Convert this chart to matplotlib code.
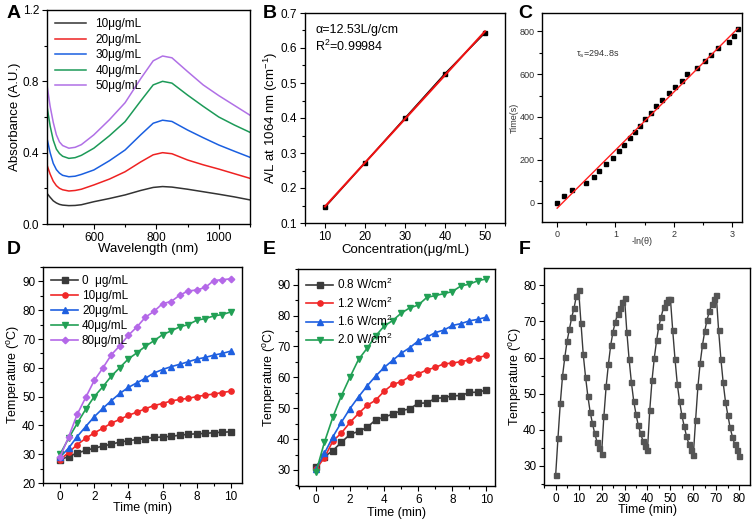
import numpy as np
import matplotlib
matplotlib.use("Agg")
import matplotlib.pyplot as plt
from matplotlib.ticker import MultipleLocator

plt.rcParams['font.family'] = ['Liberation Sans', 'DejaVu Sans']
plt.rcParams['mathtext.fontset'] = 'custom'
plt.rcParams['mathtext.rm'] = 'Liberation Sans'
plt.rcParams['mathtext.it'] = 'Liberation Sans:italic'
plt.rcParams['mathtext.default'] = 'regular'

# ---- A: absorbance spectra ----
wavelength = [450, 460, 470, 480, 490, 500, 520, 540, 560, 600, 650, 700, 750,
              790, 820, 850, 900, 950, 1000, 1050, 1100]
abs_10 = [0.172, 0.150, 0.130, 0.118, 0.110, 0.106, 0.103, 0.104, 0.108, 0.125, 0.143,
          0.163, 0.188, 0.205, 0.210, 0.207, 0.195, 0.181, 0.167, 0.152, 0.135]
abs_20 = [0.331, 0.280, 0.240, 0.215, 0.200, 0.192, 0.185, 0.188, 0.195, 0.219, 0.252,
          0.293, 0.348, 0.388, 0.400, 0.394, 0.359, 0.332, 0.308, 0.282, 0.256]
abs_30 = [0.48, 0.40, 0.34, 0.305, 0.285, 0.273, 0.265, 0.268, 0.278, 0.303, 0.355,
          0.415, 0.500, 0.565, 0.582, 0.575, 0.527, 0.484, 0.443, 0.408, 0.374]
abs_40 = [0.66, 0.55, 0.47, 0.42, 0.395, 0.38, 0.368, 0.372, 0.385, 0.425, 0.495,
          0.574, 0.690, 0.780, 0.800, 0.790, 0.723, 0.660, 0.600, 0.555, 0.514]
abs_50 = [0.78, 0.66, 0.57, 0.50, 0.46, 0.44, 0.425, 0.430, 0.445, 0.50, 0.585,
          0.68, 0.815, 0.915, 0.942, 0.932, 0.855, 0.780, 0.720, 0.665, 0.61]
spectra_labels = ['10μg/mL', '20μg/mL', '30μg/mL', '40μg/mL', '50μg/mL']

# ---- B: A/L vs concentration ----
conc = [10, 20, 30, 40, 50]
a_over_l = [0.145, 0.272, 0.400, 0.527, 0.643]

# ---- C: cooling time vs -ln(theta) ----
neg_ln_theta = [0, 0.113, 0.25, 0.5, 0.63, 0.72, 0.83, 0.96, 1.06, 1.14, 1.25, 1.33,
                1.42, 1.51, 1.61, 1.69, 1.79, 1.92, 2.02, 2.14, 2.22, 2.39, 2.54,
                2.64, 2.76, 2.95, 3.04, 3.10]
cool_time = [0, 30, 60, 90, 120, 150, 180, 210, 240, 270, 300, 330, 360, 390, 420,
             450, 480, 510, 540, 570, 600, 630, 660, 690, 720, 750, 780, 810]

# ---- D: heating curves by concentration ----
time_min = [0, 0.5, 1, 1.5, 2, 2.5, 3, 3.5, 4, 4.5, 5, 5.5, 6, 6.5, 7, 7.5, 8, 8.5, 9, 9.5, 10]
temp_0 = [28.1, 29.2, 30.4, 31.3, 32.1, 32.8, 33.5, 34.2, 34.7, 35.1, 35.4, 35.8, 36.0,
          36.2, 36.6, 36.9, 37.1, 37.2, 37.5, 37.6, 37.8]
temp_10 = [28.1, 30.6, 33.3, 35.5, 37.4, 39.0, 40.8, 42.1, 43.5, 44.6, 45.8, 46.9, 47.6,
           48.5, 49.0, 49.4, 50.0, 50.5, 50.9, 51.4, 51.9]
temp_20 = [29.0, 32.1, 36.1, 39.6, 43.0, 45.9, 48.6, 51.1, 53.2, 54.8, 56.4, 58.2, 59.4,
           60.4, 61.2, 62.1, 63.0, 63.6, 64.4, 65.0, 65.8]
temp_40 = [30.0, 35.5, 40.7, 45.6, 50.0, 53.4, 57.1, 60.1, 63.1, 65.2, 67.5, 69.4, 71.5,
           72.8, 74.2, 75.0, 76.5, 77.1, 78.0, 78.5, 79.4]
temp_80 = [29.0, 36.0, 43.8, 49.7, 55.6, 59.9, 64.5, 67.7, 71.3, 74.2, 77.6, 79.6, 82.3,
           83.0, 85.2, 86.7, 87.0, 87.9, 90.3, 90.6, 90.9]
conc_labels = ['0  μg/mL', '10μg/mL', '20μg/mL', '40μg/mL', '80μg/mL']

# ---- E: heating curves by power density ----
temp_p08 = [31.1, 34.3, 36.3, 39.0, 41.5, 42.5, 43.8, 46.2, 47.1, 48.1, 49.2, 49.8, 51.6,
            51.7, 53.2, 53.4, 54.0, 54.1, 55.1, 55.2, 55.9]
temp_p12 = [30.2, 34.0, 39.4, 42.0, 45.4, 48.3, 50.9, 52.6, 55.5, 57.7, 58.6, 60.2, 61.1,
            62.4, 63.2, 64.4, 64.6, 65.1, 65.6, 66.4, 67.1]
temp_p16 = [30.3, 35.4, 40.8, 45.5, 49.9, 53.7, 57.2, 60.4, 63.2, 65.5, 67.8, 69.6, 71.8,
            73.0, 74.5, 75.3, 76.8, 77.4, 78.3, 78.8, 79.5]
temp_p20 = [29.2, 39.0, 47.2, 54.1, 60.1, 65.8, 69.4, 73.4, 76.6, 78.4, 80.8, 82.5, 83.4,
            85.9, 86.5, 87.1, 87.8, 89.6, 90.2, 91.3, 91.9]
power_labels = ['0.8 W/cm$^2$', '1.2 W/cm$^2$', '1.6 W/cm$^2$', '2.0 W/cm$^2$']

# ---- F: heating/cooling cycles ----
cycle_time = list(range(0, 81))
cycle_temp = [27.6, 37.8, 47.3, 55.0, 60.2, 64.7, 67.9, 71.2, 73.7, 77.0, 78.8,
              69.7, 60.9, 54.7, 49.4, 45.0, 41.8, 39.0, 36.7, 35.0, 33.3,
              43.7, 52.1, 58.3, 63.5, 67.2, 69.9, 72.1, 73.8, 75.3, 76.5,
              67.2, 59.5, 53.1, 48.0, 44.3, 41.2, 39.0, 37.0, 35.6, 34.4,
              45.4, 53.8, 60.0, 64.8, 68.8, 71.3, 73.9, 75.3, 76.1, 76.3,
              67.6, 59.6, 52.7, 47.9, 44.0, 41.0, 38.3, 36.1, 34.3, 33.1,
              42.8, 52.0, 58.6, 63.5, 67.4, 70.5, 72.8, 74.7, 76.2, 77.2,
              67.7, 59.7, 53.1, 47.8, 44.2, 40.7, 38.1, 36.0, 34.3, 32.8]

W, H = 753, 522
fig = plt.figure(figsize=(W / 100, H / 100), dpi=100)


def add_ax(x0, y0, x1, y1):
    """Axes from pixel box (left, top, right, bottom)."""
    ax = fig.add_axes([x0 / W, 1 - y1 / H, (x1 - x0) / W, (y1 - y0) / H])
    ax._px = (x1 - x0, y1 - y0)
    return ax


def style(ax, fs=9, lw=1.0):
    for s in ax.spines.values():
        s.set_linewidth(lw)
    ax.tick_params(which='both', direction='out', labelsize=fs, width=0.8, pad=2)
    ax.tick_params(which='major', length=3.5)
    ax.tick_params(which='minor', length=2)


def labels(ax, xl, yl, xoff, yoff, fs, color='black'):
    """Place axis labels at pixel offsets from the axes edges."""
    w, h = ax._px
    ax.set_xlabel(xl, fontsize=fs, color=color)
    ax.set_ylabel(yl, fontsize=fs, color=color)
    ax.xaxis.set_label_coords(0.5, -xoff / h)
    ax.yaxis.set_label_coords(-yoff / w, 0.5)
    ax.xaxis.label.set_va('center')
    ax.yaxis.label.set_va('center')
    ax.yaxis.label.set_ha('center')


# A
ax = add_ax(47, 10, 250, 224)
colors_a = ['#333333', '#ee2222', '#1a5fe0', '#1c9a58', '#b070e6']
for ys, c, lab in zip([abs_10, abs_20, abs_30, abs_40, abs_50], colors_a, spectra_labels):
    ax.plot(wavelength, ys, color=c, lw=1.1, label=lab)
ax.set_xlim(450, 1100)
ax.set_ylim(0, 1.2)
ax.xaxis.set_major_locator(MultipleLocator(200))
ax.xaxis.set_minor_locator(MultipleLocator(100))
ax.yaxis.set_major_locator(MultipleLocator(0.4))
ax.yaxis.set_minor_locator(MultipleLocator(0.2))
labels(ax, 'Wavelength (nm)', 'Absorbance (A.U.)', 25, 32, 9.5)
ax.legend(loc='upper left', frameon=False, fontsize=8.5,
          handlelength=2.6, labelspacing=0.3, borderaxespad=0.3)
style(ax, fs=8.5)

# B
ax = add_ax(305, 13, 505, 223)
fit_b = np.polyfit(conc, a_over_l, 1)
ax.plot(conc, a_over_l, color='black', marker='s', ms=3.5, lw=1.0)
ax.plot(conc, np.polyval(fit_b, conc), color='#ee1111', lw=1.5)
ax.set_xlim(5, 55)
ax.set_ylim(0.1, 0.7)
ax.xaxis.set_major_locator(MultipleLocator(10))
ax.xaxis.set_minor_locator(MultipleLocator(5))
ax.yaxis.set_major_locator(MultipleLocator(0.1))
ax.yaxis.set_minor_locator(MultipleLocator(0.05))
labels(ax, 'Concentration(μg/mL)', 'A/L at 1064 nm (cm$^{-1}$)', 27, 34, 9.5)
ax.text(0.05, 0.95, 'α=12.53L/g/cm\nR$^2$=0.99984', transform=ax.transAxes,
        ha='left', va='top', fontsize=9, linespacing=1.3)
style(ax, fs=8.5)

# C
ax = add_ax(542, 13, 742, 222)
fit_c = np.polyfit(neg_ln_theta, cool_time, 1)
xs = np.array([neg_ln_theta[0], neg_ln_theta[-1]])
ax.plot(neg_ln_theta, cool_time, 's', color='black', ms=2.6)
ax.plot(xs, np.polyval(fit_c, xs), color='#ff2020', lw=1.0)
ax.set_xlim(-0.26, 3.17)
ax.set_ylim(-90, 885)
ax.xaxis.set_major_locator(MultipleLocator(1))
ax.xaxis.set_minor_locator(MultipleLocator(0.5))
ax.yaxis.set_major_locator(MultipleLocator(200))
ax.yaxis.set_minor_locator(MultipleLocator(100))
labels(ax, '-ln(θ)', 'Time(s)', 19, 28, 6.5, color='#333333')
ax.text(0.33, 680, 'τ$_s$=294..8s', fontsize=6.5, color='#333333')
style(ax, fs=6.5, lw=1.0)
ax.tick_params(labelcolor='#333333')

# D
ax = add_ax(43, 267, 242, 483)
markers_d = ['s', 'o', '^', 'v', 'D']
colors_d = ['#3a3a3a', '#f02828', '#1f60e0', '#22a055', '#b468e8']
for ys, c, m, lab in zip([temp_0, temp_10, temp_20, temp_40, temp_80], colors_d,
                         markers_d, conc_labels):
    ax.plot(time_min, ys, color=c, marker=m, ms=3.8 if m != 'D' else 3.3, lw=1.2, label=lab)
ax.set_xlim(-1, 10.65)
ax.set_ylim(20, 95)
ax.xaxis.set_major_locator(MultipleLocator(2))
ax.xaxis.set_minor_locator(MultipleLocator(1))
ax.yaxis.set_major_locator(MultipleLocator(10))
ax.yaxis.set_minor_locator(MultipleLocator(5))
labels(ax, 'Time (min)', 'Temperature ($^o$C)', 25, 30, 9)
ax.legend(loc='upper left', frameon=False, fontsize=8.5, handlelength=2.3,
          labelspacing=0.25, borderaxespad=0.3, handletextpad=0.3)
style(ax, fs=8.5)

# E
ax = add_ax(298, 269, 495, 486)
markers_e = ['s', 'o', '^', 'v']
colors_e = ['#3a3a3a', '#f02828', '#1f60e0', '#22a055']
for ys, c, m, lab in zip([temp_p08, temp_p12, temp_p16, temp_p20], colors_e,
                         markers_e, power_labels):
    ax.plot(time_min, ys, color=c, marker=m, ms=3.8, lw=1.2, label=lab)
ax.set_xlim(-1.05, 10.5)
ax.set_ylim(24.8, 95.1)
ax.xaxis.set_major_locator(MultipleLocator(2))
ax.xaxis.set_minor_locator(MultipleLocator(1))
ax.yaxis.set_major_locator(MultipleLocator(10))
ax.yaxis.set_minor_locator(MultipleLocator(5))
labels(ax, 'Time (min)', 'Temperature ($^o$C)', 27, 29, 9)
ax.legend(loc='upper left', frameon=False, fontsize=8.5, handlelength=2.3,
          labelspacing=0.25, borderaxespad=0.3, handletextpad=0.3)
style(ax, fs=8.5)

# F
ax = add_ax(544, 268, 750, 485)
ax.plot(cycle_time, cycle_temp, color='#3a3a3a', marker='s', ms=3.6,
        mfc='#555555', mec='#555555', lw=1.0)
ax.set_xlim(-5.1, 84.7)
ax.set_ylim(24.7, 84.8)
ax.xaxis.set_major_locator(MultipleLocator(10))
ax.xaxis.set_minor_locator(MultipleLocator(5))
ax.yaxis.set_major_locator(MultipleLocator(10))
ax.yaxis.set_minor_locator(MultipleLocator(5))
labels(ax, 'Time (min)', 'Temperature ($^o$C)', 25, 29, 9)
style(ax, fs=8.5)

# panel letters
for lab, (px, py) in zip('ABCDEF', [(14, 13), (270, 13), (525, 13),
                                      (14, 249), (269, 249), (525, 249)]):
    fig.text(px / W, 1 - py / H, lab, fontsize=14, fontweight='bold',
             ha='center', va='center')

fig.savefig('out.png', dpi=100)
